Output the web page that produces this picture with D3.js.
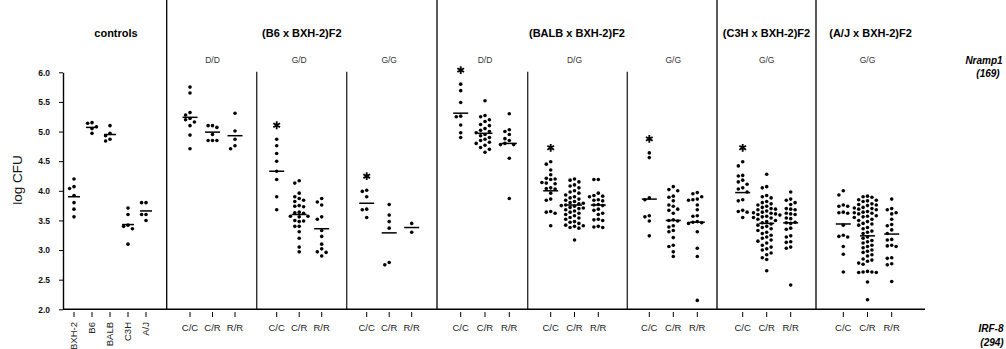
<!DOCTYPE html>
<html>
<head>
<meta charset="utf-8">
<script src="https://cdn.jsdelivr.net/npm/d3@7"></script>
<style>
  body { margin: 0; background: #fff; }
  svg { display: block; font-family: "Liberation Sans", Arial, sans-serif; }
</style>
</head>
<body>
<svg id="chart" width="1006" height="349"></svg>
<script>
// ---- data ----
const controlNames = ["BXH-2", "B6", "BALB", "C3H", "A/J"];
const controlValues = [
  [4.2, 4.07, 4.04, 3.92, 3.8, 3.69, 3.56],
  [5.15, 5.14, 5.08, 5.05, 4.97],
  [5.1, 4.97, 4.93, 4.87, 4.84],
  [3.71, 3.6, 3.42, 3.4, 3.36, 3.1],
  [3.8, 3.8, 3.6, 3.6, 3.5]
];
const controlMeans = [3.90, 5.07, 4.95, 3.43, 3.66];

const irf8Genotypes = ["C/C", "C/R", "R/R"];
const crossTitles = ["(B6 x BXH-2)F2", "(BALB x BXH-2)F2", "(C3H x BXH-2)F2", "(A/J x BXH-2)F2"];
const panelCross = [0, 0, 0, 1, 1, 1, 2, 3];
const nrampGenotypes = ["D/D", "G/D", "G/G", "D/D", "D/G", "G/G", "G/G", "G/G"];
const starred = [false, true, true, true, true, true, true, false]; // * on C/C

const b6DD = [
  [5.75, 5.65, 5.32, 5.28, 5.22, 5.2, 5.16, 5.1, 4.94, 4.71],
  [5.1, 5.1, 5.07, 4.95, 4.85, 4.85, 4.85],
  [5.31, 5.01, 4.87, 4.76, 4.71]
];
const b6GD = [
  [4.87, 4.76, 4.63, 4.5, 4.33, 4.19, 3.9, 3.68],
  [4.17, 4.13, 3.96, 3.9, 3.87, 3.84, 3.82, 3.75, 3.74, 3.73, 3.64, 3.63, 3.62,
   3.57, 3.57, 3.56, 3.5, 3.49, 3.48, 3.4, 3.4, 3.31, 3.2, 3.05, 2.97],
  [3.87, 3.81, 3.76, 3.56, 3.52, 3.33, 3.23, 3.1, 3.02, 2.97, 2.96, 2.9]
];
const b6GG = [
  [4.01, 3.99, 3.9, 3.69, 3.68, 3.55],
  [3.77, 3.59, 3.48, 3.37, 2.79, 2.75],
  [3.45, 3.3]
];
const balbDD = [
  [5.8, 5.69, 5.49, 5.26, 5.25, 5.11, 4.98, 4.9],
  [5.52, 5.27, 5.25, 5.2, 5.17, 5.12, 5.1, 5.05, 5.02, 5.0, 4.98, 4.95, 4.93,
   4.9, 4.87, 4.85, 4.82, 4.8, 4.77, 4.73, 4.7, 4.65],
  [5.3, 5.03, 5.0, 4.95, 4.88, 4.85, 4.8, 4.78, 4.78, 4.55, 3.87]
];
const balbDG = [
  [4.49, 4.45, 4.35, 4.27, 4.21, 4.2, 4.19, 4.14, 4.13, 4.12, 4.05, 4.04, 4.03,
   3.96, 3.86, 3.84, 3.65, 3.64, 3.62, 3.41],
  [4.2, 4.18, 4.15, 4.1, 4.08, 4.05, 4.0, 3.98, 3.96, 3.93, 3.9, 3.88, 3.86,
   3.84, 3.82, 3.8, 3.79, 3.78, 3.76, 3.75, 3.74, 3.72, 3.71, 3.7, 3.68, 3.66,
   3.64, 3.62, 3.6, 3.58, 3.55, 3.54, 3.52, 3.48, 3.47, 3.45, 3.42, 3.41, 3.4,
   3.38, 3.37, 3.17],
  [4.19, 4.19, 3.96, 3.92, 3.91, 3.9, 3.85, 3.84, 3.83, 3.77, 3.76, 3.75, 3.69,
   3.67, 3.62, 3.6, 3.52, 3.51, 3.5, 3.4, 3.39, 3.38]
];
const balbGG = [
  [4.64, 4.56, 3.88, 3.85, 3.58, 3.56, 3.49, 3.24],
  [4.07, 4.02, 4.0, 3.91, 3.89, 3.83, 3.76, 3.74, 3.69, 3.67, 3.62, 3.51, 3.5,
   3.49, 3.41, 3.39, 3.33, 3.31, 3.21, 3.08, 3.06, 2.97, 2.89],
  [3.97, 3.95, 3.9, 3.86, 3.85, 3.84, 3.76, 3.68, 3.58, 3.57, 3.48, 3.47, 3.46,
   3.45, 3.31, 3.03, 2.89, 2.15]
];
const c3hGG = [
  [4.49, 4.42, 4.26, 4.25, 4.18, 4.15, 4.11, 4.05, 4.03, 3.98, 3.85, 3.83, 3.67,
   3.65, 3.64, 3.55],
  [4.28, 4.07, 4.05, 3.92, 3.9, 3.88, 3.82, 3.8, 3.78, 3.76, 3.74, 3.72, 3.7,
   3.69, 3.68, 3.66, 3.64, 3.63, 3.62, 3.61, 3.6, 3.59, 3.57, 3.56, 3.55, 3.54,
   3.52, 3.5, 3.48, 3.46, 3.44, 3.42, 3.4, 3.38, 3.36, 3.33, 3.3, 3.28, 3.25,
   3.22, 3.2, 3.17, 3.15, 3.12, 3.08, 3.05, 3.02, 3.0, 2.95, 2.92, 2.87, 2.84, 2.65],
  [3.98, 3.86, 3.84, 3.8, 3.77, 3.7, 3.69, 3.68, 3.62, 3.61, 3.6, 3.54, 3.53,
   3.47, 3.46, 3.45, 3.37, 3.35, 3.24, 3.22, 3.14, 3.13, 3.05, 3.03, 2.41]
];
const ajGG = [
  [4.0, 3.93, 3.76, 3.74, 3.74, 3.64, 3.63, 3.62, 3.42, 3.25, 3.23, 3.22, 3.06,
   2.93, 2.63],
  [3.91, 3.9, 3.89, 3.85, 3.84, 3.83, 3.82, 3.78, 3.77, 3.76, 3.75, 3.72, 3.71,
   3.7, 3.69, 3.68, 3.65, 3.64, 3.63, 3.62, 3.61, 3.58, 3.57, 3.56, 3.55, 3.52,
   3.5, 3.48, 3.45, 3.44, 3.42, 3.38, 3.36, 3.32, 3.3, 3.28, 3.22, 3.2, 3.16,
   3.14, 3.12, 3.08, 3.06, 3.04, 3.0, 2.98, 2.96, 2.92, 2.9, 2.85, 2.83, 2.81,
   2.78, 2.76, 2.64, 2.63, 2.63, 2.62, 2.62, 2.46, 2.16],
  [3.86, 3.7, 3.68, 3.63, 3.61, 3.52, 3.43, 3.41, 3.34, 3.28, 3.18, 3.17, 3.08,
   3.07, 3.06, 2.87, 2.86, 2.77, 2.75, 2.47]
];
const panelValues = [b6DD, b6GD, b6GG, balbDD, balbDG, balbGG, c3hGG, ajGG];
const panelMeans = [
  [5.24, 4.99, 4.93], [4.33, 3.60, 3.36], [3.79, 3.29, 3.38],
  [5.31, 4.97, 4.80], [4.00, 3.76, 3.76], [3.86, 3.50, 3.47],
  [3.97, 3.45, 3.46],
  [3.44, 3.24, 3.27]
];
const yTicks = [2.0, 2.5, 3.0, 3.5, 4.0, 4.5, 5.0, 5.5, 6.0];

// ---- layout ----
const svg = d3.select("#chart");
const axisX0 = 63, axisX1 = 925, axisY = 309.3;
const y = d3.scaleLinear().domain([2, 6]).range([axisY, 72.3]);

// panel edges and first-tick positions
const panelEdges = [166.7, 256.7, 346.7, 437, 527.7, 627.3, 717, 816, 925];
const firstTick = [190, 276.7, 366.7, 460.7, 550.7, 649.3, 742.7, 843.3];
const tickStep = [22.5, 22.5, 22.5, 24.3, 23.8, 24, 24, 24.2];
const crossEdges = [166.7, 437, 717, 816, 925];

const xControls = d3.scalePoint().domain(controlNames).range([74, 146]);
const panelScales = firstTick.map((t, i) =>
  d3.scalePoint().domain(irf8Genotypes).range([t, t + 2 * tickStep[i]]));

// simple dot-plot layout: spread close values sideways
function swarm(values, cx) {
  const step = 4.4, gap = 4.2;
  const placed = [];
  const offs = [0, -1, 1, -2, 2, -3, 3, -4, 4];
  values.slice().sort((a, b) => b - a).forEach(v => {
    const py = y(v);
    for (const k of offs) {
      const px = cx + k * step;
      if (!placed.some(p => Math.abs(p.x - px) < 1 && Math.abs(p.y - py) < gap)) {
        placed.push({ x: px, y: py });
        break;
      }
    }
  });
  return placed;
}

// ---- frame lines ----
const frame = svg.append("g").attr("stroke", "#000");
frame.selectAll("line.major")
  .data(crossEdges.slice(0, 4))
  .enter().append("line")
  .attr("x1", d => d).attr("x2", d => d)
  .attr("y1", 0).attr("y2", axisY)
  .attr("stroke-width", 1.3);
frame.selectAll("line.minor")
  .data([256.7, 346.7, 527.7, 627.3])
  .enter().append("line")
  .attr("x1", d => d).attr("x2", d => d)
  .attr("y1", 71.7).attr("y2", axisY)
  .attr("stroke", "#333")
  .attr("stroke-width", 1.4);
frame.append("line")
  .attr("x1", axisX0).attr("x2", axisX1)
  .attr("y1", axisY).attr("y2", axisY)
  .attr("stroke-width", 1.4);

// y axis
const yAxis = svg.append("g")
  .attr("transform", `translate(${axisX0},0)`)
  .call(d3.axisLeft(y).tickValues(yTicks).tickFormat(d3.format(".1f")).tickSize(4).tickSizeOuter(0).tickPadding(9));
yAxis.select(".domain").attr("stroke-width", 1.4);
yAxis.selectAll("text")
  .attr("font-family", "Liberation Sans, Arial, sans-serif")
  .attr("font-size", 8.5).attr("font-weight", "bold").attr("fill", "#111");

svg.append("text")
  .attr("transform", "translate(21.5,180) rotate(-90)")
  .attr("text-anchor", "middle")
  .attr("font-size", 13.5)
  .attr("fill", "#111")
  .text("log CFU");

// x ticks + labels
const tickG = svg.append("g").attr("stroke", "#000").attr("stroke-width", 1);
controlNames.forEach(n => {
  tickG.append("line").attr("x1", xControls(n)).attr("x2", xControls(n)).attr("y1", 312).attr("y2", 317);
  svg.append("text")
    .attr("transform", `translate(${xControls(n)},322) rotate(-90)`)
    .attr("dy", "0.35em")
    .attr("text-anchor", "end")
    .attr("font-size", 9.5)
    .attr("fill", "#222")
    .text(n);
});
panelScales.forEach(sc => {
  irf8Genotypes.forEach(g => {
    tickG.append("line").attr("x1", sc(g)).attr("x2", sc(g)).attr("y1", 312).attr("y2", 317);
    svg.append("text")
      .attr("x", sc(g)).attr("y", 331)
      .attr("text-anchor", "middle")
      .attr("font-size", 9.5)
      .attr("fill", "#222")
      .text(g);
  });
});

// titles
svg.append("text")
  .attr("x", 116).attr("y", 37)
  .attr("text-anchor", "middle")
  .attr("font-size", 11).attr("font-weight", "bold")
  .text("controls");
crossTitles.forEach((t, i) => {
  svg.append("text")
    .attr("x", (crossEdges[i] + crossEdges[i + 1]) / 2).attr("y", 37)
    .attr("text-anchor", "middle")
    .attr("font-size", 11).attr("font-weight", "bold")
    .text(t);
});
nrampGenotypes.forEach((g, i) => {
  svg.append("text")
    .attr("x", panelScales[i]("C/R")).attr("y", 63)
    .attr("text-anchor", "middle")
    .attr("font-size", 8.5)
    .attr("fill", "#333")
    .text(g);
});

// right-hand locus labels
const locus = svg.append("g").attr("font-size", 10).attr("font-weight", "bold")
  .attr("font-style", "italic").attr("text-anchor", "middle");
locus.append("text").attr("x", 984).attr("y", 64).text("Nramp1");
locus.append("text").attr("x", 988).attr("y", 77).text("(169)");
locus.append("text").attr("x", 991).attr("y", 332).text("IRF-8");
locus.append("text").attr("x", 992).attr("y", 346).text("(294)");

// ---- dots, means, stars ----
const marks = svg.append("g");
function drawColumn(values, mean, cx, halfW, star) {
  const pts = swarm(values, cx);
  marks.selectAll(null).data(pts).enter().append("circle")
    .attr("cx", d => d.x).attr("cy", d => d.y).attr("r", 1.8)
    .attr("fill", "#000");
  marks.append("line")
    .attr("x1", cx - halfW).attr("x2", cx + halfW)
    .attr("y1", y(mean)).attr("y2", y(mean))
    .attr("stroke", "#000").attr("stroke-width", 1.5);
  if (star) {
    marks.append("path")
      .attr("d", d3.symbol(d3.symbolAsterisk, 42)())
      .attr("transform", `translate(${cx},${y(d3.max(values)) - 14})`)
      .attr("stroke", "#000").attr("stroke-width", 1.8).attr("fill", "none");
  }
}
controlNames.forEach((n, i) => drawColumn(controlValues[i], controlMeans[i], xControls(n), 6, false));
panelValues.forEach((pv, p) => {
  irf8Genotypes.forEach((g, j) => {
    drawColumn(pv[j], panelMeans[p][j], panelScales[p](g), 7.5, starred[p] && j === 0);
  });
});
</script>
</body>
</html>
